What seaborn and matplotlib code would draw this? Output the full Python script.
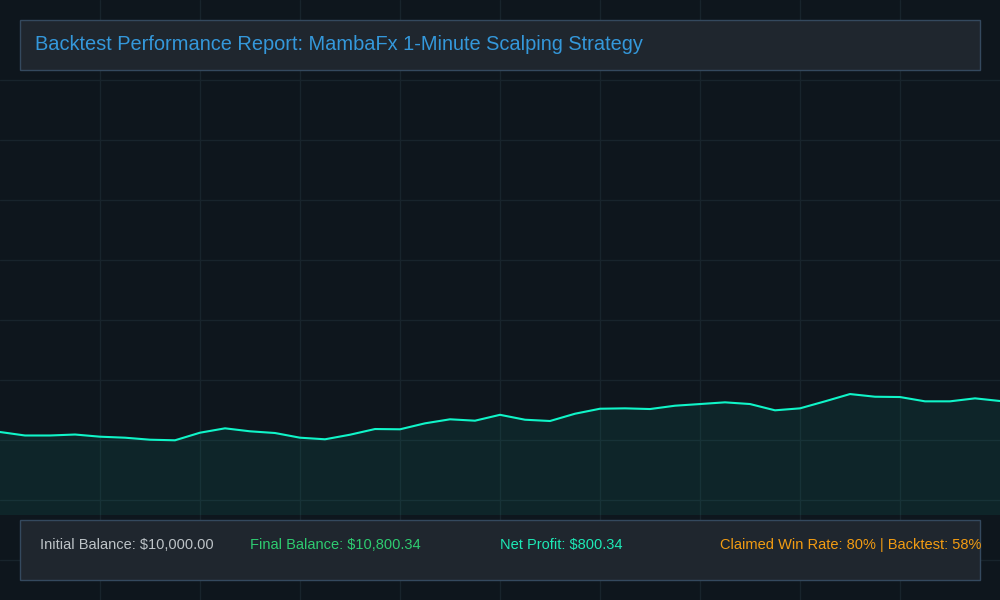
import numpy as np
import pandas as pd
import seaborn as sns
import matplotlib.pyplot as plt
from matplotlib.patches import Rectangle

# equity curve, one value per minute
minutes = list(range(41))
balance = [10000, 9910, 9910, 9935, 9879, 9853, 9801, 9786, 9982, 10095,
           10018, 9974, 9853, 9812, 9930, 10077, 10070, 10224, 10328, 10292,
           10444, 10317, 10284, 10472, 10601, 10611, 10593, 10679, 10722, 10766,
           10722, 10560, 10611, 10792, 10980, 10911, 10903, 10792, 10792, 10869,
           10800.34]

title = 'Backtest Performance Report: MambaFx 1-Minute Scalping Strategy'
stats_labels = ['Initial Balance: $10,000.00', 'Final Balance: $10,800.34',
                'Net Profit: $800.34', 'Claimed Win Rate: 80% | Backtest: 58%']
stats_colors = ['#bdc3c7', '#2ecc71', '#1de9b6', '#f39c12']

df = pd.DataFrame({'minute': minutes, 'balance': balance})

sns.set_theme(style='dark')
plt.rcParams['font.family'] = ['Liberation Sans', 'DejaVu Sans']

bg = '#0e161d'
fig = plt.figure(figsize=(10, 6), dpi=100, facecolor=bg)

# background grid, in pixel coordinates
ax_bg = fig.add_axes([0, 0, 1, 1])
ax_bg.set_facecolor(bg)
ax_bg.set_xlim(0, 1000)
ax_bg.set_ylim(600, 0)
ax_bg.set_xticks(range(100, 1000, 100))
ax_bg.set_yticks(range(80, 600, 60))
ax_bg.grid(True, color='#18242c', linewidth=1)
ax_bg.tick_params(length=0, labelbottom=False, labelleft=False)
for s in ax_bg.spines.values():
    s.set_visible(False)

# equity chart
ax = fig.add_axes([0, 85 / 600, 1, 435 / 600])
ax.patch.set_alpha(0)
line_color = '#10f5c8'
sns.lineplot(data=df, x='minute', y='balance', ax=ax, color=line_color, linewidth=1.5)
ax.fill_between(df['minute'], df['balance'], 7857, color=line_color, alpha=0.07, linewidth=0)
ax.set_xlim(0, 40)
ax.set_ylim(7857, 19089)
ax.set_axis_off()

# title box
fig.patches.append(Rectangle((20 / 1000, 1 - 70 / 600), 960 / 1000, 50 / 600,
                             transform=fig.transFigure, facecolor='#1f262e',
                             edgecolor='#34495e', linewidth=1, zorder=5))
fig.text(35 / 1000, 1 - 44.5 / 600, title, color='#3498db', fontsize=14.4,
         va='center', ha='left', zorder=6)

# stats box
fig.patches.append(Rectangle((20 / 1000, 20 / 600), 960 / 1000, 60 / 600,
                             transform=fig.transFigure, facecolor='#1f262e',
                             edgecolor='#34495e', linewidth=1, zorder=5))
for xpos, label, col in zip([40, 250, 500, 720], stats_labels, stats_colors):
    fig.text(xpos / 1000, 1 - 545 / 600, label, color=col, fontsize=10.5,
             va='center', ha='left', zorder=6)

fig.savefig('out.png', dpi=100, facecolor=bg)
